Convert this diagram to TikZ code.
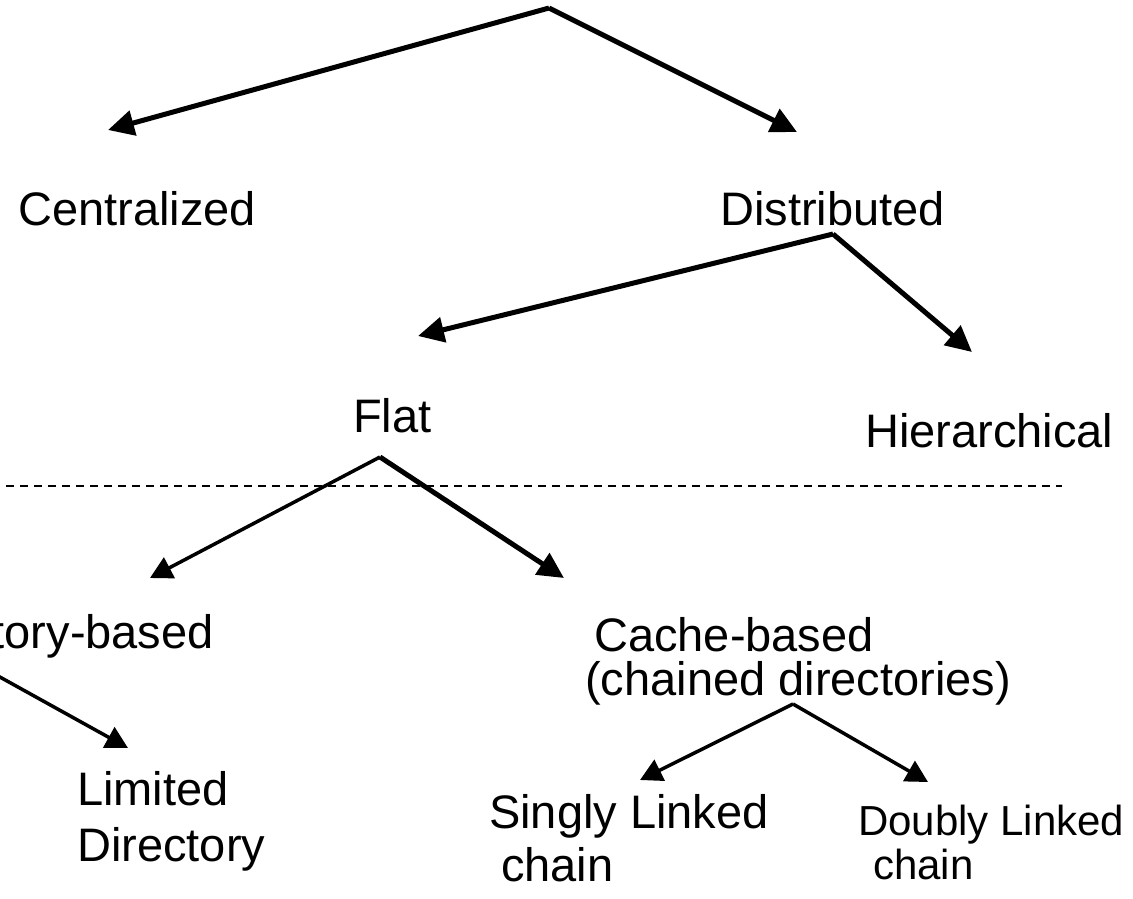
\documentclass[tikz,border=0pt]{standalone}
\usepackage{fontspec}
\setmainfont{Liberation Sans}
\usetikzlibrary{arrows.meta}

\begin{document}
\begin{tikzpicture}[x=1pt,y=-1pt,
  lbl/.style={inner sep=0pt, font=\fontsize{47}{54}\selectfont},
  lblsmall/.style={inner sep=0pt, font=\fontsize{42}{48}\selectfont},
  heavy/.style={line width=5pt, -{Triangle[length=26pt,width=25pt]}},
  light/.style={line width=3.5pt, -{Triangle[length=22pt,width=23pt]}},
  divider/.style={line width=2pt, dash pattern=on 8pt off 6pt},
]
\useasboundingbox (0,0) rectangle (1133,898);
\clip (0,0) rectangle (1133,898);

% labels
\node[lbl, anchor=base west] (central) at (18,225) {Centralized};
\node[lbl, anchor=base west] (distrib) at (720,225) {Distributed};
\node[lbl, anchor=base west] (flat) at (353,432) {Flat};
\node[lbl, anchor=base west] (hier) at (865,447) {Hierarchical};
\node[lbl, anchor=base east] (dirbased) at (214,648) {Directory-based};
\node[lbl, anchor=base west] (cache) at (594,651) {Cache-based};
\node[lbl, anchor=base west] (chained) at (585,695) {(chained directories)};
\node[lbl, anchor=base west] (limited) at (77,805) {Limited};
\node[lbl, anchor=base west] (limdir) at (77,861) {Directory};
\node[lbl, anchor=base west] (singly) at (489,828) {Singly Linked};
\node[lbl, anchor=base west] (schain) at (501,881) {chain};
\node[lblsmall, anchor=base west] (doubly) at (858,835) {Doubly Linked};
\node[lblsmall, anchor=base west] (dchain) at (873,879) {chain};

% branching points and arrow ends
\coordinate (root) at (549,8);
\coordinate (centralTip) at (108,130);
\coordinate (distribTip) at (797,132);
\coordinate (distribFork) at (833,234);
\coordinate (flatTip) at (418,336);
\coordinate (hierTip) at (972,352);
\coordinate (flatFork) at (380,457);
\coordinate (dirTip) at (150,578);
\coordinate (cacheTip) at (564,578);
\coordinate (dirFork) at (-20,666);
\coordinate (limitedTip) at (128,748);
\coordinate (cacheFork) at (793,704);
\coordinate (singlyTip) at (640,780);
\coordinate (doublyTip) at (928,782);

% connectors
\draw[heavy] (root) -- (centralTip);
\draw[heavy] (root) -- (distribTip);
\draw[heavy] (distribFork) -- (flatTip);
\draw[heavy] (distribFork) -- (hierTip);
\draw[light] (flatFork) -- (dirTip);
\draw[heavy] (flatFork) -- (cacheTip);
\draw[light] (dirFork) -- (limitedTip);
\draw[light] (cacheFork) -- (singlyTip);
\draw[light] (cacheFork) -- (doublyTip);

% dashed separator
\coordinate (sepL) at (6,486);
\coordinate (sepR) at (1062,486);
\draw[divider] (sepL) -- (sepR);
\end{tikzpicture}
\end{document}
